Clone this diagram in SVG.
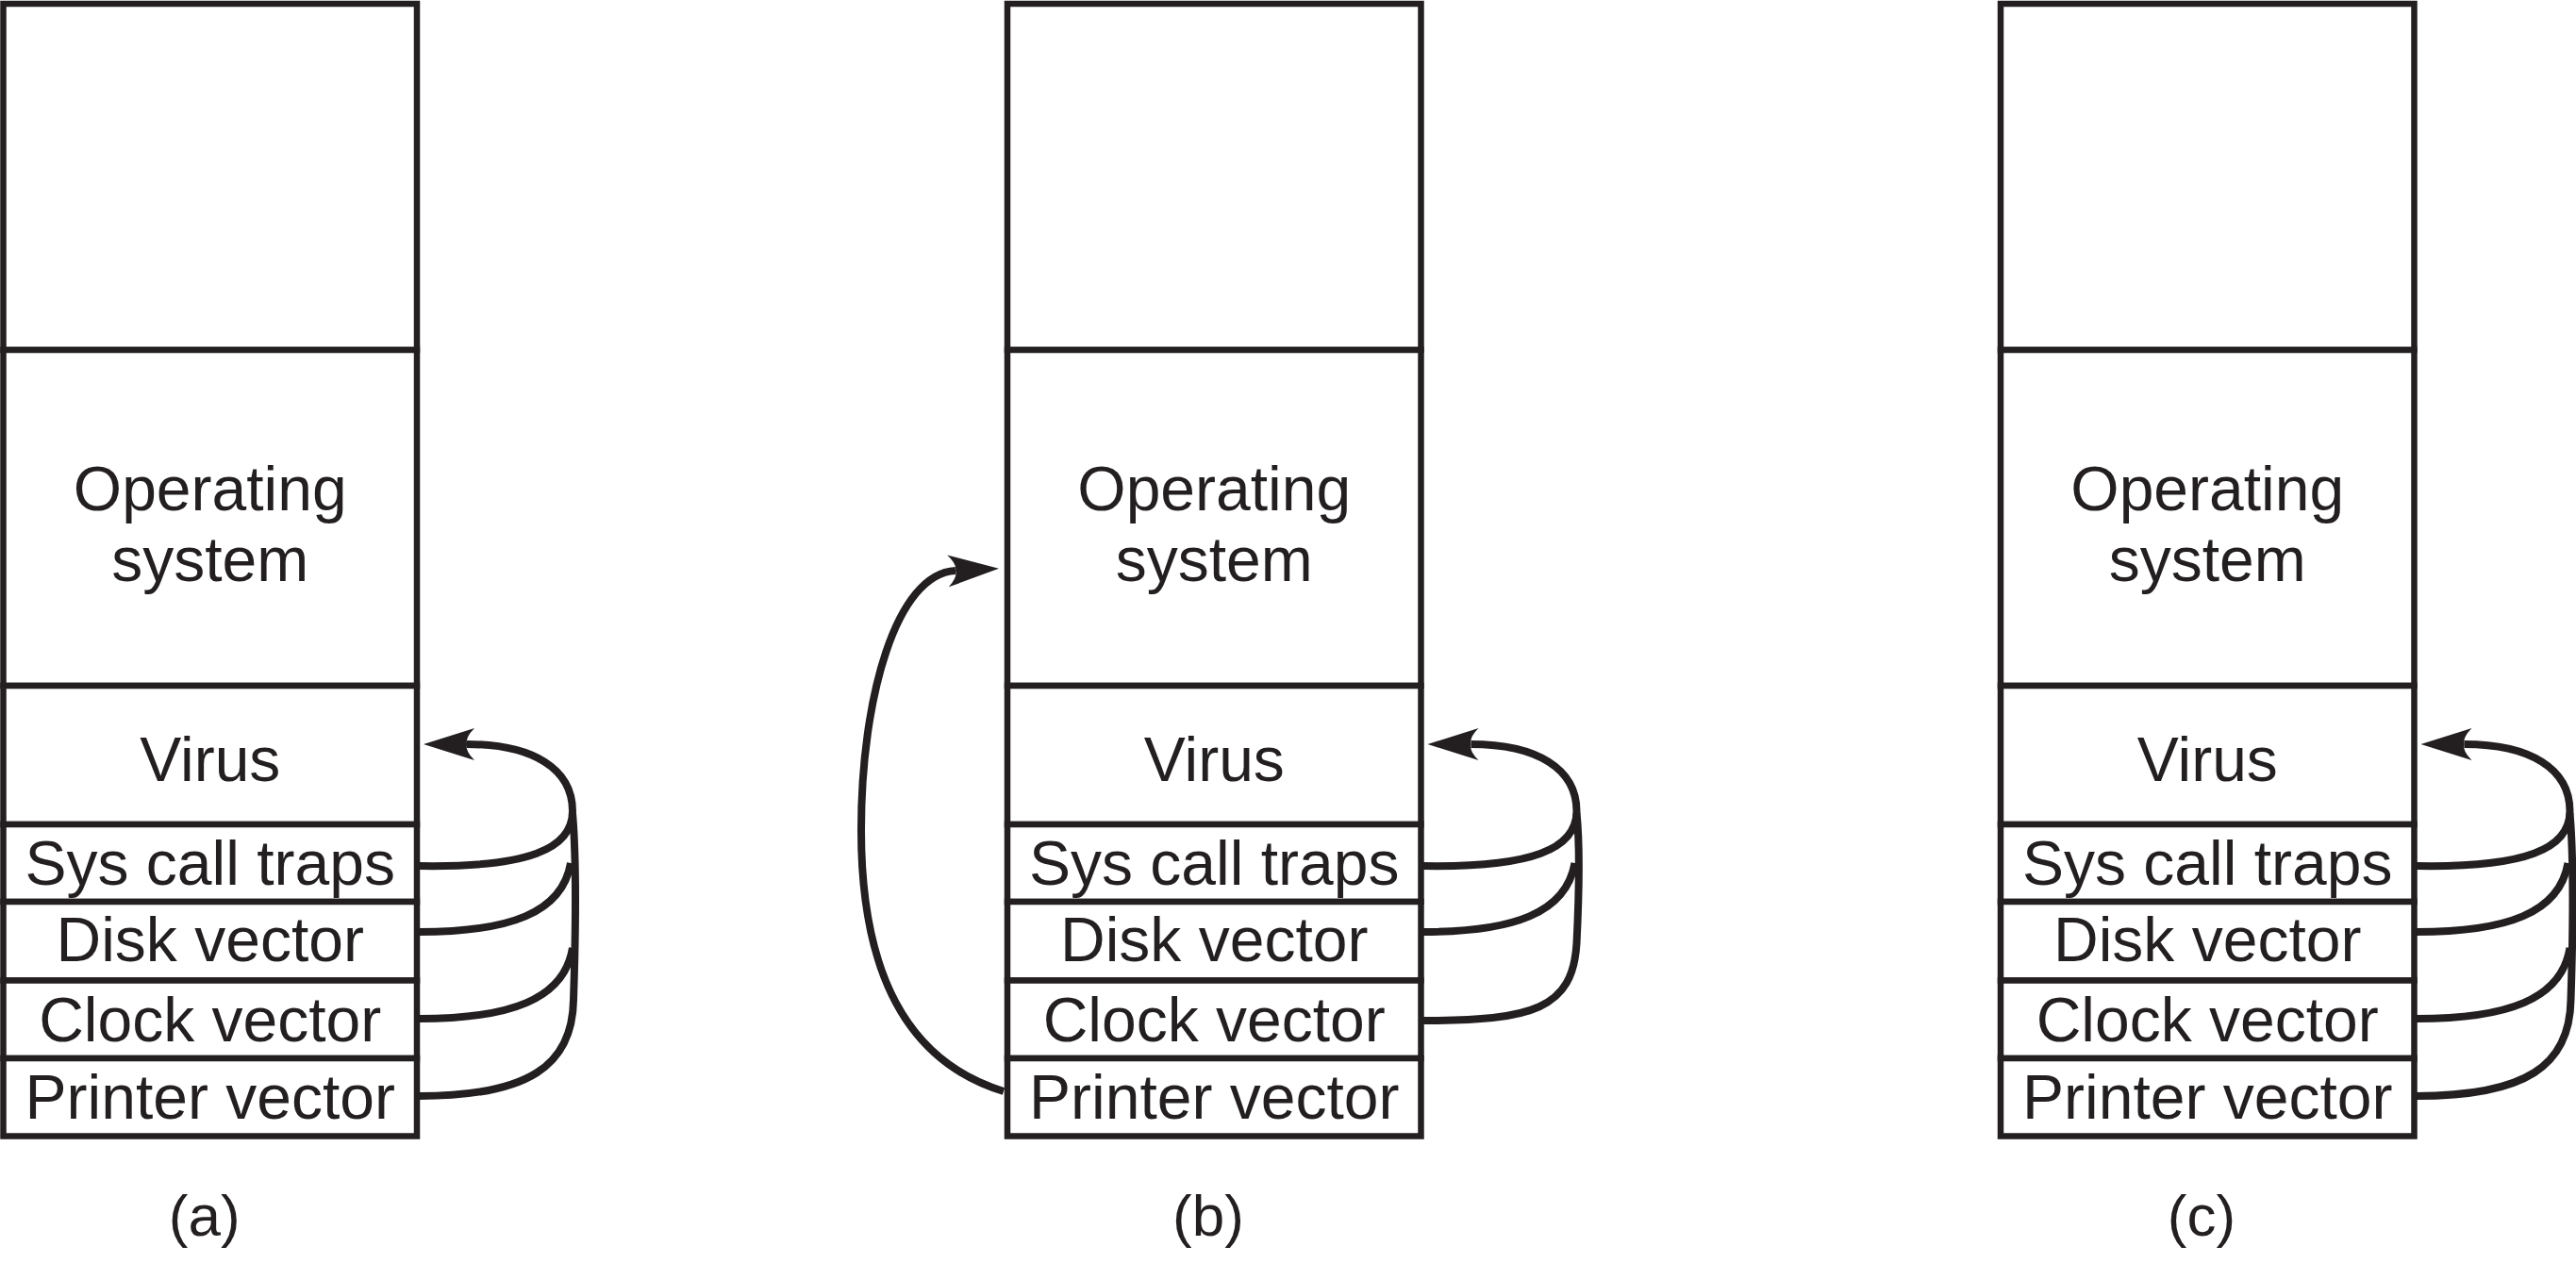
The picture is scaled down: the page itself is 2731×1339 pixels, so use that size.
<svg xmlns="http://www.w3.org/2000/svg" width="2731" height="1339" viewBox="0 0 2731 1339">
<style>
.cell{fill:#ffffff;stroke:#231f20;stroke-width:6.5}
.t{font-family:"Liberation Sans",Arial,Helvetica,sans-serif;font-size:66px;fill:#231f20;text-anchor:middle}
.cap{font-size:62px}
.conn{fill:none;stroke:#231f20;stroke-width:8}
</style>
<defs>
<marker id="ah" markerUnits="userSpaceOnUse" orient="auto" refX="0" refY="0" markerWidth="60" markerHeight="40" viewBox="-10 -20 60 40" overflow="visible">
<path d="M46,0 L-8,-17 Q2,-7 0,0 Q2,7 -8,17 Z" fill="#231f20"/>
</marker>
<g id="stack">
<rect class="cell" x="3.5" y="4" width="438.5" height="367"/>
<rect class="cell" x="3.5" y="371" width="438.5" height="356"/>
<rect class="cell" x="3.5" y="727" width="438.5" height="147"/>
<rect class="cell" x="3.5" y="874" width="438.5" height="82"/>
<rect class="cell" x="3.5" y="956" width="438.5" height="83.5"/>
<rect class="cell" x="3.5" y="1039.5" width="438.5" height="82.5"/>
<rect class="cell" x="3.5" y="1122" width="438.5" height="82.5"/>
<text class="t" x="222.75" y="541">Operating</text>
<text class="t" x="222.75" y="616">system</text>
<text class="t" x="222.75" y="828">Virus</text>
<text class="t" x="222.75" y="938">Sys call traps</text>
<text class="t" x="222.75" y="1019">Disk vector</text>
<text class="t" x="222.75" y="1104">Clock vector</text>
<text class="t" x="222.75" y="1186">Printer vector</text>
</g>
</defs>

<g id="memory-a">
<use href="#stack"/>
<text class="t cap" x="216.75" y="1310">(a)</text>
</g>
<g id="memory-b" transform="translate(1064.5,0)">
<use href="#stack"/>
<text class="t cap" x="216.5" y="1310">(b)</text>
</g>
<g id="memory-c" transform="translate(2117.5,0)">
<use href="#stack"/>
<text class="t cap" x="216.5" y="1310">(c)</text>
</g>

<g id="connectors">
<g id="conn-a">
<path class="conn" d="M444,1162 C560,1162 607,1130 608,1060 C610,1000 612,920 607,862"/>
<path class="conn" d="M444,1080 C540,1080 598,1060 607,1005"/>
<path class="conn" d="M444,988 C540,988 596,968 605,915"/>
<path class="conn" d="M444,918 C560,920 607,900 607,860 C607,815 565,789 495,789" marker-end="url(#ah)"/>
</g>
<g id="conn-b" transform="translate(1064.5,0)">
<path class="conn" d="M444,1082 C560,1082 603,1070 607,1000 C610,940 610,890 607,862"/>
<path class="conn" d="M444,988 C540,988 596,968 605,915"/>
<path class="conn" d="M444,918 C560,920 607,900 607,860 C607,815 565,789 495,789" marker-end="url(#ah)"/>
</g>
<path id="conn-b-printer" class="conn" d="M1064,1157 C960,1125 913,1030 913,880 C913,740 950,608 1013,605" marker-end="url(#ah)"/>
<g id="conn-c" transform="translate(2117.5,0)">
<path class="conn" d="M444,1162 C560,1162 607,1130 608,1060 C610,1000 612,920 607,862"/>
<path class="conn" d="M444,1080 C540,1080 598,1060 607,1005"/>
<path class="conn" d="M444,988 C540,988 596,968 605,915"/>
<path class="conn" d="M444,918 C560,920 607,900 607,860 C607,815 565,789 495,789" marker-end="url(#ah)"/>
</g>
</g>
</svg>
